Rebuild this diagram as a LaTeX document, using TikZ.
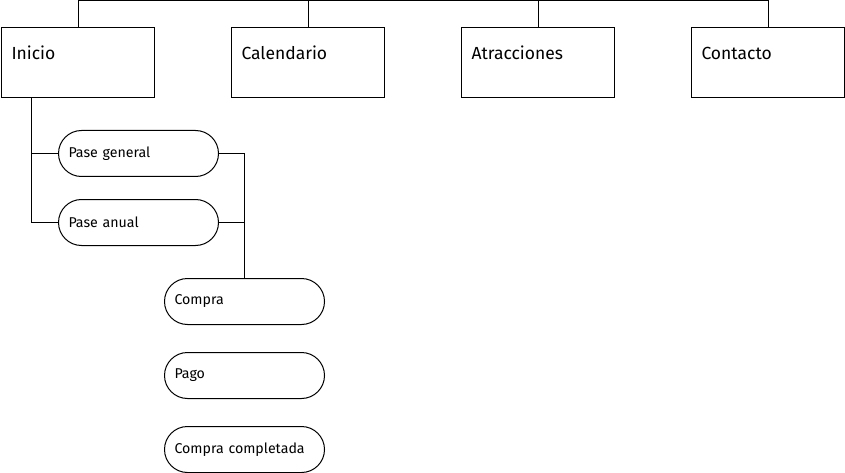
\documentclass[tikz,border=0pt]{standalone}
\usepackage{fontspec}
\setmainfont{Fira Sans}
\tikzset{
  page/.style={draw, line width=1pt, anchor=north west, minimum width=153pt, minimum height=70pt,
    inner sep=10pt, text width=133pt, align=left, text height=22pt, text depth=28pt,
    font=\fontsize{17.5}{19}\selectfont},
  step box/.style={draw, line width=1pt, anchor=north west, rounded corners=23pt,
    minimum width=160pt, minimum height=46pt, inner xsep=10pt, text width=140pt, align=left,
    font=\fontsize{14.2}{16}\selectfont},
  link/.style={line width=1pt}
}
\begin{document}
\begin{tikzpicture}[x=1pt,y=-1pt]
    \useasboundingbox (0,0) rectangle (845,473);
    \node[page] (inicio) at (1,27) {Inicio};
    \node[page] (calendario) at (231,27) {Calendario};
    \node[page] (atracciones) at (461,27) {Atracciones};
    \node[page] (contacto) at (691,27) {Contacto};
    \node[step box] (general) at (58,130) {Pase general};
    \node[step box] (anual) at (58,199) {Pase anual};
    \node[step box] (compra) at (164,278) {Compra};
    \node[step box] (pago) at (164,352) {Pago};
    \node[step box] (completada) at (164,426) {Compra completada};
    % menu bar
    \draw[link] (inicio.north) -- +(0,-26.3) -| (contacto.north);
    \draw[link] (calendario.north) -- +(0,-26.3);
    \draw[link] (atracciones.north) -- +(0,-26.3);
    % passes
    \draw[link] ([xshift=-46.5pt]inicio.south) |- (general.west);
    \draw[link] ([xshift=-46.5pt]inicio.south) |- (anual.west);
    \draw[link] (general.east) -| (compra.north);
    \draw[link] (anual.east) -| (compra.north);
\end{tikzpicture}
\end{document}
